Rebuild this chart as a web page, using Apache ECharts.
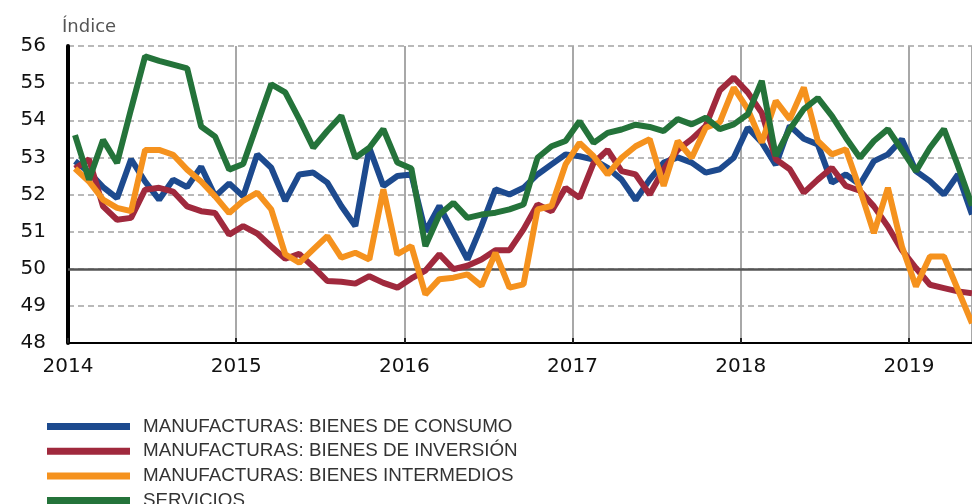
<!DOCTYPE html>
<html>
<head>
<meta charset="utf-8">
<script src="https://cdn.jsdelivr.net/npm/echarts@6/dist/echarts.min.js"></script>
<style>
  html, body { margin: 0; padding: 0; background: #fff; }
  #pmiChart { width: 972px; height: 504px; }
</style>
</head>
<body>
<div id="pmiChart"></div>
<script>
  // etiquetas del eje X (un tick por año, 12 meses cada uno)
  const years = ['2014', '2015', '2016', '2017', '2018', '2019'];

  const seriesNames = [
    'MANUFACTURAS: BIENES DE CONSUMO',
    'MANUFACTURAS: BIENES DE INVERSIÓN',
    'MANUFACTURAS: BIENES INTERMEDIOS',
    'SERVICIOS'
  ];

  // datos mensuales ene-2014 .. may-2019
  const consumo = [52.9, 52.6, 52.2, 51.9, 52.95, 52.35, 51.86, 52.4, 52.2, 52.75, 51.95, 52.3,
    51.95, 53.08, 52.72, 51.83, 52.54, 52.59, 52.32, 51.69, 51.15, 53.26, 52.23, 52.5,
    52.54, 51.0, 51.69, 50.97, 50.25, 51.15, 52.14, 52.0, 52.18, 52.54, 52.81, 53.08,
    53.03, 52.94, 52.72, 52.4, 51.85, 52.4, 52.86, 53.0, 52.86, 52.59, 52.68, 52.99,
    53.8, 53.4, 52.8, 53.85, 53.5, 53.35, 52.32, 52.54, 52.27, 52.9, 53.08, 53.49,
    52.63, 52.36, 52.0, 52.54, 51.46];

  const inversion = [52.7, 52.95, 51.68, 51.32, 51.37, 52.13, 52.18, 52.08, 51.68, 51.55, 51.5, 50.92,
    51.15, 50.95, 50.6, 50.27, 50.4, 50.05, 49.67, 49.65, 49.6, 49.8, 49.62, 49.49,
    49.74, 49.95, 50.39, 49.99, 50.08, 50.25, 50.5, 50.5, 51.06, 51.73, 51.55, 52.18,
    51.91, 52.85, 53.2, 52.63, 52.54, 52.0, 52.68, 53.2, 53.49, 53.85, 54.8, 55.15,
    54.75, 54.2, 52.95, 52.68, 52.05, 52.4, 52.72, 52.23, 52.1, 51.68, 51.14, 50.5,
    50.02, 49.57, 49.48, 49.39, 49.34];

  const intermedios = [52.7, 52.35, 51.86, 51.64, 51.55, 53.2, 53.2, 53.07, 52.67, 52.35, 51.95, 51.5,
    51.83, 52.05, 51.6, 50.39, 50.16, 50.52, 50.88, 50.3, 50.43, 50.25, 52.14, 50.39,
    50.61, 49.31, 49.72, 49.76, 49.85, 49.54, 50.43, 49.49, 49.58, 51.6, 51.69, 52.81,
    53.39, 53.03, 52.54, 52.99, 53.3, 53.49, 52.23, 53.44, 52.99, 53.8, 53.94, 54.88,
    54.3, 53.4, 54.52, 54.03, 54.88, 53.44, 53.08, 53.22, 52.14, 50.96, 52.18, 50.6,
    49.52, 50.33, 50.33, 49.43, 48.53];

  const servicios = [53.6, 52.4, 53.47, 52.85, 54.3, 55.72, 55.6, 55.5, 55.4, 53.83, 53.56, 52.67,
    52.82, 53.9, 54.97, 54.75, 54.03, 53.26, 53.71, 54.12, 52.99, 53.26, 53.76, 52.86,
    52.7, 50.61, 51.46, 51.78, 51.37, 51.46, 51.51, 51.6, 51.73, 52.99, 53.3, 53.44,
    53.97, 53.39, 53.66, 53.75, 53.88, 53.82, 53.71, 54.03, 53.89, 54.07, 53.76, 53.89,
    54.16, 55.06, 53.04, 53.76, 54.3, 54.6, 54.12, 53.53, 52.99, 53.44, 53.76, 53.2,
    52.63, 53.26, 53.76, 52.77, 51.7];

  const colors = ['#1d4a8e', '#a0293d', '#f5921e', '#24733a'];

  // cada mes se coloca en la mitad de su intervalo
  function toPoints(arr) {
    return arr.map((v, i) => [i + 0.5, v]);
  }

  function lineSeries(name, arr, color) {
    return {
      name: name,
      type: 'line',
      symbol: 'none',
      data: toPoints(arr),
      itemStyle: { color: color },
      lineStyle: { color: color, width: 6 }
    };
  }

  let chart = echarts.init(document.getElementById('pmiChart'));
  let series = [
    lineSeries(seriesNames[0], consumo, colors[0]),
    lineSeries(seriesNames[1], inversion, colors[1]),
    lineSeries(seriesNames[2], intermedios, colors[2]),
    lineSeries(seriesNames[3], servicios, colors[3])
  ];
  // línea de 50 (sólida)
  series[0].markLine = {
    silent: true,
    symbol: 'none',
    label: { show: false },
    lineStyle: { color: '#555', type: 'solid', width: 2.5 },
    data: [{ yAxis: 50 }],
    z: 1
  };

  chart.setOption({
    animation: false,
    title: {
      text: 'Índice',
      left: 62,
      top: 18,
      padding: 0,
      textStyle: { fontFamily: 'DejaVu Sans', fontSize: 18, fontWeight: 'normal', color: '#555' }
    },
    grid: { left: 68, right: 0, top: 46, bottom: 161 },
    legend: {
      orient: 'vertical',
      left: 47,
      top: 417,
      height: 140,
      padding: 0,
      icon: 'rect',
      itemWidth: 83,
      itemHeight: 7,
      itemGap: 5.7,
      itemStyle: { borderWidth: 0 },
      textStyle: {
        fontFamily: 'Liberation Sans',
        fontSize: 18.8,
        color: '#333',
        lineHeight: 18,
        padding: [0, 0, 0, 8]
      },
      data: seriesNames
    },
    xAxis: {
      type: 'value',
      min: 0,
      max: 64.5,
      interval: 12,
      axisLine: { lineStyle: { color: '#000', width: 2 } },
      axisTick: { show: true, inside: true, length: 5, lineStyle: { color: '#222', width: 2 } },
      axisLabel: {
        margin: 14,
        fontFamily: 'DejaVu Sans',
        fontSize: 20,
        color: '#111',
        showMaxLabel: false,
        formatter: function (v) {
          return v % 12 === 0 ? years[v / 12] : '';
        }
      },
      splitLine: { show: true, lineStyle: { color: '#a8a8a8', width: 2 } }
    },
    yAxis: {
      type: 'value',
      min: 48,
      max: 56,
      interval: 1,
      axisLine: { show: true, lineStyle: { color: '#000', width: 4 } },
      axisTick: { show: false },
      axisLabel: { margin: 22, fontFamily: 'DejaVu Sans', fontSize: 20, color: '#111' },
      splitLine: { lineStyle: { color: '#a3a3a3', width: 1.5, type: [6, 4] } }
    },
    series: series
  });
</script>
</body>
</html>
